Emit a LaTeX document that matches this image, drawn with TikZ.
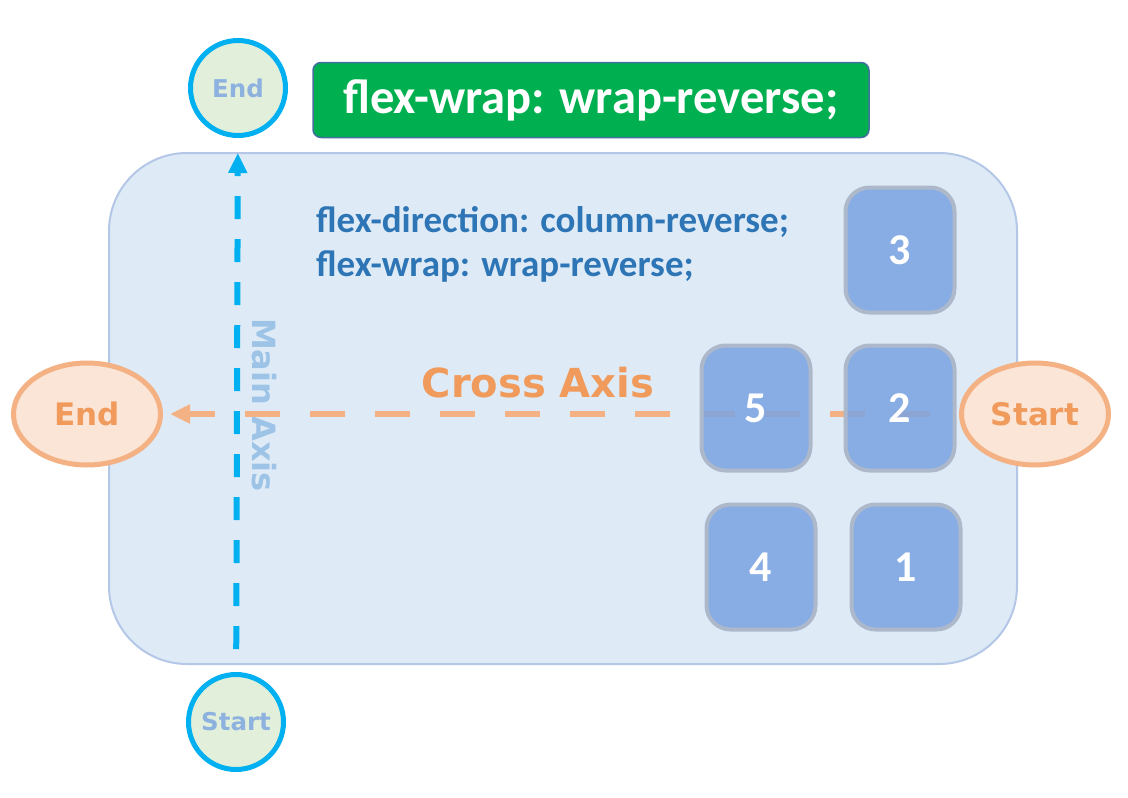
\documentclass[tikz,border=0pt]{standalone}
\usepackage{fontspec}
\setmainfont{Carlito}
\newfontfamily\axisfont{DejaVu Sans}
\usetikzlibrary{arrows.meta,shapes.geometric}

\definecolor{panelfill}{HTML}{DEEBF7}
\definecolor{panelline}{HTML}{B4C7E7}
\definecolor{itemfill}{HTML}{7AA3E2}
\definecolor{itemline}{HTML}{ADB9CA}
\definecolor{titlegreen}{HTML}{00B050}
\definecolor{titleline}{HTML}{41719C}
\definecolor{codeblue}{HTML}{2E75B6}
\definecolor{maincyan}{HTML}{00B0F0}
\definecolor{mainfill}{HTML}{E2EFDA}
\definecolor{mainlabel}{HTML}{9DC3E6}
\definecolor{endtext}{HTML}{8DB2E0}
\definecolor{crossorange}{HTML}{F4B183}
\definecolor{crosstext}{HTML}{F09A5C}
\definecolor{crossfill}{HTML}{FBE5D6}

\begin{document}
\begin{tikzpicture}[x=1pt, y=-1pt, >={Triangle[length=20pt,width=18pt]},
  panel/.style={draw=panelline, line width=2pt, fill=panelfill, rounded corners=78pt, minimum width=908pt, minimum height=511pt},
  item/.style={draw=itemline, line width=4pt, fill=itemfill, fill opacity=0.85, text opacity=1, rounded corners=24pt,
    minimum width=109pt, minimum height=125pt, text=white, font=\bfseries\fontsize{44}{44}\selectfont},
  mainend/.style={circle, draw=maincyan, line width=5pt, fill=mainfill, minimum size=95pt, inner sep=0pt,
    text=endtext, font=\axisfont\bfseries\fontsize{24.5}{24.5}\selectfont},
  crossend/.style={ellipse, draw=crossorange, line width=5pt, fill=crossfill, minimum width=147pt, minimum height=102pt, inner sep=0pt,
    text=crosstext, font=\axisfont\bfseries\fontsize{31}{31}\selectfont},
  mainaxis/.style={draw=maincyan, line width=6pt, dash pattern=on 23pt off 20pt, dash phase=37pt, ->},
  crossaxis/.style={draw=crossorange, line width=6pt, dash pattern=on 35pt off 30pt, ->}]
  \useasboundingbox (0,0) rectangle (1128,798);
  \fill[white] (0,0) rectangle (1128,798);
  \node[panel] (flexbox) at (563,408.5) {};
  % axis ends
  \node[mainend] (mainE) at (238,88) {End};
  \node[mainend] (mainS) at (236,722) {Start};
  \node[crossend] (crossE) at (87,414) {End};
  \node[crossend] (crossS) at (1035,414) {Start};
  % title and code
  \node[draw=titleline, line width=1.5pt, fill=titlegreen, rounded corners=8pt, minimum width=556pt, minimum height=75pt,
    text=white, font=\bfseries\fontsize{48.5}{48.5}\selectfont] (title) at (591,100) {flex-wrap: wrap-reverse;};
  \node[anchor=north west, inner sep=0pt, align=left, text=codeblue, font=\bfseries\fontsize{37}{44}\selectfont] (code) at (316,206)
    {flex-direction: column-reverse;\\flex-wrap: wrap-reverse;};
  % axes
  \draw[mainaxis, shorten <=17pt, shorten >=15pt] (mainS) -- (mainE);
  \node[rotate=-90, text=mainlabel, font=\axisfont\bfseries\fontsize{32}{32}\selectfont] (mainlbl) at (264,405) {Main Axis};
  \node[text=crosstext, font=\axisfont\bfseries\fontsize{40}{40}\selectfont] (crosslbl) at (538,383) {Cross Axis};
  \draw[crossaxis, shorten <=29pt, shorten >=7pt] (crossS) -- (crossE);
  % flex items
  \foreach \n/\x/\y in {3/900/250, 2/900/408, 5/756/408, 4/761/567, 1/906/567}
    \node[item] (item\n) at (\x,\y) {\n};
\end{tikzpicture}
\end{document}
